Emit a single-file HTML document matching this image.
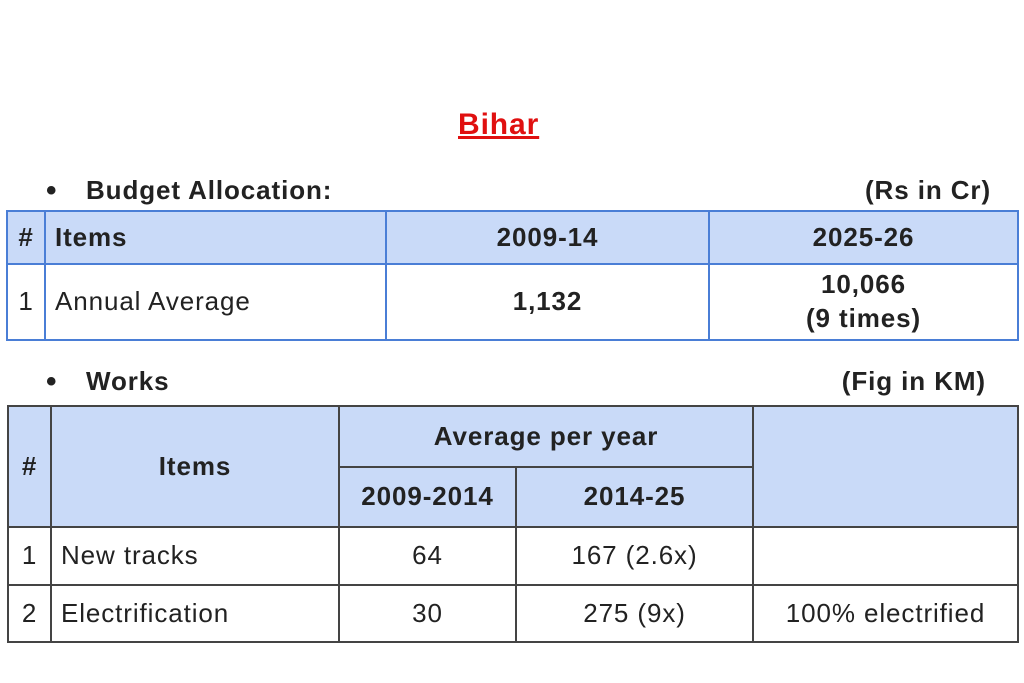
<!DOCTYPE html>
<html><head><meta charset="utf-8"><style>
body{margin:0;width:1024px;height:683px;background:#fff;position:relative;overflow:hidden;font-family:"Liberation Sans",Arial,sans-serif;color:#222}
.c{position:absolute;box-sizing:border-box;display:flex;align-items:center;justify-content:center;font-size:26px;letter-spacing:0.9px;line-height:1.3;text-align:center}
.b{border:2px solid #4a7ed6}
.g{border:2px solid #444}
.h{background:#c9daf8;font-weight:bold}
.l{justify-content:flex-start;padding-left:9px}
.t{position:absolute;font-size:26px;letter-spacing:0.9px;font-weight:bold;white-space:nowrap}
</style></head><body>
<div class="t" style="left:458px;top:108px;font-size:30px;color:#e01010;text-decoration:underline">Bihar</div>
<div class="t" style="left:46px;top:174px;font-size:30px">•</div>
<div class="t" style="left:86px;top:175px">Budget Allocation:</div>
<div class="t" style="right:33px;top:175px">(Rs in Cr)</div>

<div class="c b h" style="left:6px;top:210px;width:40px;height:55px">#</div>
<div class="c b h l" style="left:44px;top:210px;width:343px;height:55px">Items</div>
<div class="c b h" style="left:385px;top:210px;width:325px;height:55px">2009-14</div>
<div class="c b h" style="left:708px;top:210px;width:311px;height:55px">2025-26</div>
<div class="c b" style="left:6px;top:263px;width:40px;height:78px">1</div>
<div class="c b l" style="left:44px;top:263px;width:343px;height:78px">Annual Average</div>
<div class="c b" style="left:385px;top:263px;width:325px;height:78px;font-weight:bold">1,132</div>
<div class="c b" style="left:708px;top:263px;width:311px;height:78px;font-weight:bold">10,066<br>(9 times)</div>

<div class="t" style="left:46px;top:365px;font-size:30px">•</div>
<div class="t" style="left:86px;top:366px">Works</div>
<div class="t" style="right:38px;top:366px">(Fig in KM)</div>

<div class="c g h" style="left:7px;top:405px;width:45px;height:123px">#</div>
<div class="c g h" style="left:50px;top:405px;width:290px;height:123px">Items</div>
<div class="c g h" style="left:338px;top:405px;width:416px;height:63px">Average per year</div>
<div class="c g h" style="left:338px;top:466px;width:179px;height:62px">2009-2014</div>
<div class="c g h" style="left:515px;top:466px;width:239px;height:62px">2014-25</div>
<div class="c g h" style="left:752px;top:405px;width:267px;height:123px"></div>

<div class="c g" style="left:7px;top:526px;width:45px;height:60px">1</div>
<div class="c g l" style="left:50px;top:526px;width:290px;height:60px">New tracks</div>
<div class="c g" style="left:338px;top:526px;width:179px;height:60px">64</div>
<div class="c g" style="left:515px;top:526px;width:239px;height:60px">167 (2.6x)</div>
<div class="c g" style="left:752px;top:526px;width:267px;height:60px"></div>

<div class="c g" style="left:7px;top:584px;width:45px;height:59px">2</div>
<div class="c g l" style="left:50px;top:584px;width:290px;height:59px">Electrification</div>
<div class="c g" style="left:338px;top:584px;width:179px;height:59px">30</div>
<div class="c g" style="left:515px;top:584px;width:239px;height:59px">275 (9x)</div>
<div class="c g" style="left:752px;top:584px;width:267px;height:59px">100% electrified</div>
</body></html>
